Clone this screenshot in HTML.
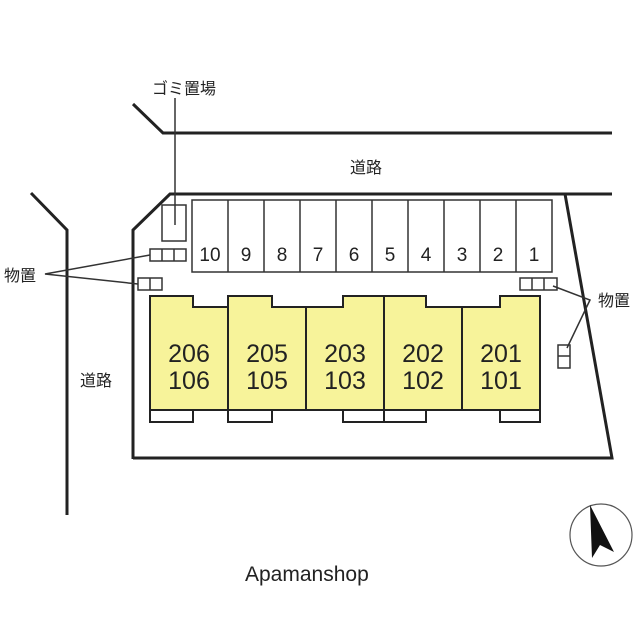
<!DOCTYPE html>
<html><head><meta charset="utf-8"><style>
html,body{margin:0;padding:0;background:#fff;}
svg{display:block}
text{font-family:"Liberation Sans","Noto Sans CJK JP",sans-serif;fill:#222;}
</style></head><body>
<svg width="640" height="640" viewBox="0 0 640 640">
<g stroke="#222" fill="none" stroke-width="3">
<polyline points="133,104 163,133 612,133"/>
<polyline points="31,193 67,230 67,515"/>
<polyline points="133,459 133,230 170,194 612,194"/>
<polyline points="565,194 612,458 133,458"/>
</g>
<g stroke="#333" fill="none" stroke-width="1.5">
<rect x="192" y="200" width="360" height="72"/>
<path d="M228,200V272M264,200V272M300,200V272M336,200V272M372,200V272M408,200V272M444,200V272M480,200V272M516,200V272"/>
<line x1="175" y1="98" x2="175" y2="225"/>
<rect x="162" y="205" width="24" height="36"/>
<rect x="150" y="249" width="36" height="12"/><path d="M162,249V261M174,249V261"/>
<rect x="138" y="278" width="24" height="12"/><path d="M150,278V290"/>
<rect x="520" y="278" width="37" height="12"/><path d="M532,278V290M544,278V290"/>
<rect x="558" y="345" width="12" height="23"/><path d="M558,356H570"/>
<polyline points="150,255 45,274 138,284"/>
<polyline points="553,286 590,300 567,348"/>
</g>
<g stroke="#222" stroke-width="2" fill="#f7f39a">
<path d="M150,296H193V307H228V296H272V307H343V296H426V307H500V296H540V410H150Z"/>
</g>
<g stroke="#222" stroke-width="2" fill="none">
<path d="M228,296V410M306,307V410M384,296V410M462,307V410"/>
<path d="M150,410V422H193V410M228,410V422H272V410M343,410V422H426V410M384,410V422M500,410V422H540V410"/>
</g>
<g font-size="19" text-anchor="middle">
<text x="210" y="261">10</text><text x="246" y="261">9</text><text x="282" y="261">8</text><text x="318" y="261">7</text><text x="354" y="261">6</text><text x="390" y="261">5</text><text x="426" y="261">4</text><text x="462" y="261">3</text><text x="498" y="261">2</text><text x="534" y="261">1</text>
</g>
<g font-size="25" text-anchor="middle">
<text x="189" y="362">206</text><text x="189" y="389">106</text>
<text x="267" y="362">205</text><text x="267" y="389">105</text>
<text x="345" y="362">203</text><text x="345" y="389">103</text>
<text x="423" y="362">202</text><text x="423" y="389">102</text>
<text x="501" y="362">201</text><text x="501" y="389">101</text>
</g>
<g font-size="16">
<text x="152" y="94">ゴミ置場</text>
<text x="350" y="173">道路</text>
<text x="80" y="386">道路</text>
<text x="4" y="281">物置</text>
<text x="598" y="306">物置</text>
</g>
<circle cx="601" cy="535" r="31" fill="none" stroke="#555" stroke-width="1.2"/>
<polygon points="590,505 614,552 600,545 592,558" fill="#111"/>
<text x="245" y="581" font-size="21" fill="#333">Apamanshop</text>
</svg>
</body></html>
